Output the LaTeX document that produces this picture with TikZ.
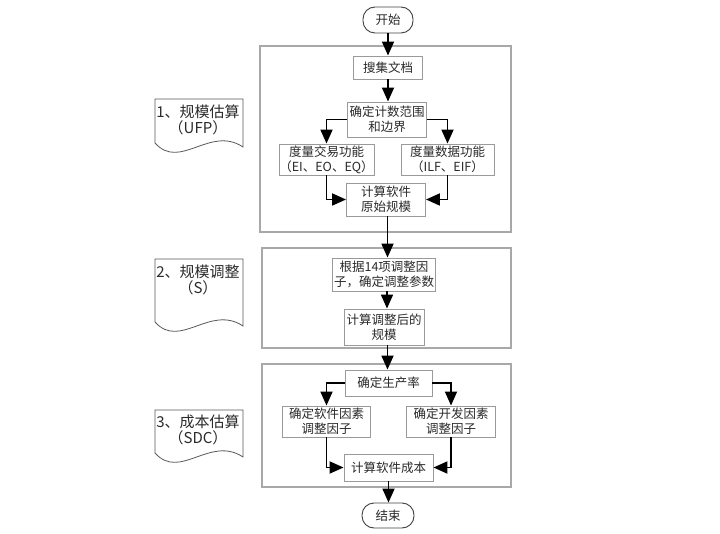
\documentclass[tikz,border=0pt]{standalone}
\usepackage{fontspec}
\newfontfamily\cjk{Noto Sans CJK SC}
\usetikzlibrary{arrows.meta}
\definecolor{boxgray}{HTML}{9A9A9A}
\definecolor{framegray}{HTML}{A8A8A8}
\definecolor{txt}{HTML}{2A2A2A}
\tikzset{
  box/.style={draw=boxgray, line width=0.9pt, fill=white, inner sep=0pt, align=center,
    font=\cjk\fontsize{12.5}{15}\selectfont, text=txt},
  term/.style={box, rounded corners=12pt, draw=black!75},
  frame/.style={draw=framegray, line width=1.2pt},
  arr/.style={line width=1.8pt, -{Triangle[length=14pt,width=12pt]}},
  tape/.style={draw=black!65, line width=0.8pt, fill=white},
  lab/.style={font=\cjk\fontsize{15}{16}\selectfont, text=txt, inner sep=0pt, align=center}
}
\begin{document}
\begin{tikzpicture}[x=1pt,y=-1pt]
\useasboundingbox (0,0) rectangle (720,534);
% frames
\draw[frame] (260,46) rectangle (511,232);
\draw[frame] (262,248) rectangle (511,348);
\draw[frame] (262,364) rectangle (511,487);
% tapes
\draw[tape] (155,143) -- (155,99) -- (243,99) -- (243,147)
  .. controls (210,125) and (180,171) .. (155,143) -- cycle;
\node[lab] (l1a) at (198,112) {1、规模估算};
\node[lab] (l1b) at (198,128) {（UFP）};
\draw[tape] (155,322) -- (155,259) -- (243,259) -- (243,326)
  .. controls (210,304) and (180,350) .. (155,322) -- cycle;
\node[lab] (l2a) at (198,272) {2、规模调整};
\node[lab] (l2b) at (198,288) {（S）};
\draw[tape] (155,453) -- (155,410) -- (243,410) -- (243,457)
  .. controls (210,435) and (180,481) .. (155,453) -- cycle;
\node[lab] (l3a) at (198,422) {3、成本估算};
\node[lab] (l3b) at (198,438) {（SDC）};
% nodes
\node[term, minimum width=50pt, minimum height=26pt] (start) at (388,20) {开始};
\node[box, minimum width=69pt, minimum height=23pt] (sj) at (388,67.5) {搜集文档};
\node[box, minimum width=79pt, minimum height=35pt] (jd) at (387,119.5) {确定计数范围\\和边界};
\node[box, minimum width=95pt, minimum height=31pt] (dj) at (326.5,159.5) {度量交易功能\\（EI、EO、EQ）};
\node[box, minimum width=93pt, minimum height=31pt] (ds) at (447.5,159.5) {度量数据功能\\（ILF、EIF）};
\node[box, minimum width=79pt, minimum height=33pt] (ys) at (386,199.5) {计算软件\\原始规模};
\node[box, minimum width=103pt, minimum height=33pt] (gj) at (384,274.5) {根据14项调整因\\子，确定调整参数};
\node[box, minimum width=80pt, minimum height=36pt] (tz) at (384,327) {计算调整后的\\规模};
\node[box, minimum width=87pt, minimum height=26pt] (sc) at (388.5,383) {确定生产率};
\node[box, minimum width=88pt, minimum height=31pt] (rj) at (326.5,421.5) {确定软件因素\\调整因子};
\node[box, minimum width=89pt, minimum height=31pt] (kf) at (451,421.5) {确定开发因素\\调整因子};
\node[box, minimum width=89pt, minimum height=27pt] (cb) at (388.5,467.5) {计算软件成本};
\node[term, minimum width=52pt, minimum height=25pt] (end) at (388,515.5) {结束};
% arrows
\draw[arr] (start.south) -- (start.south |- sj.north);
\draw[arr] (sj.south) -- (sj.south |- jd.north);
\draw[arr] (jd.west) -| (dj.north);
\draw[arr] (jd.east) -| (ds.north);
\draw[arr] (dj.south) |- (ys.west);
\draw[arr] (ds.south) |- (ys.east);
\draw[arr] ([xshift=1.5pt]ys.south) -- ([xshift=1.5pt]ys.south |- gj.north);
\draw[arr] ([xshift=3pt]gj.south) -- ([xshift=3pt]gj.south |- tz.north);
\draw[arr] ([xshift=3.5pt]tz.south) -- ([xshift=3.5pt]tz.south |- sc.north);
\draw[arr] (sc.west) -| (rj.north);
\draw[arr] (sc.east) -| (kf.north);
\draw[arr] (rj.south) |- (cb.west);
\draw[arr] (kf.south) |- (cb.east);
\draw[arr] (cb.south) -- (cb.south |- end.north);
\end{tikzpicture}
\end{document}
